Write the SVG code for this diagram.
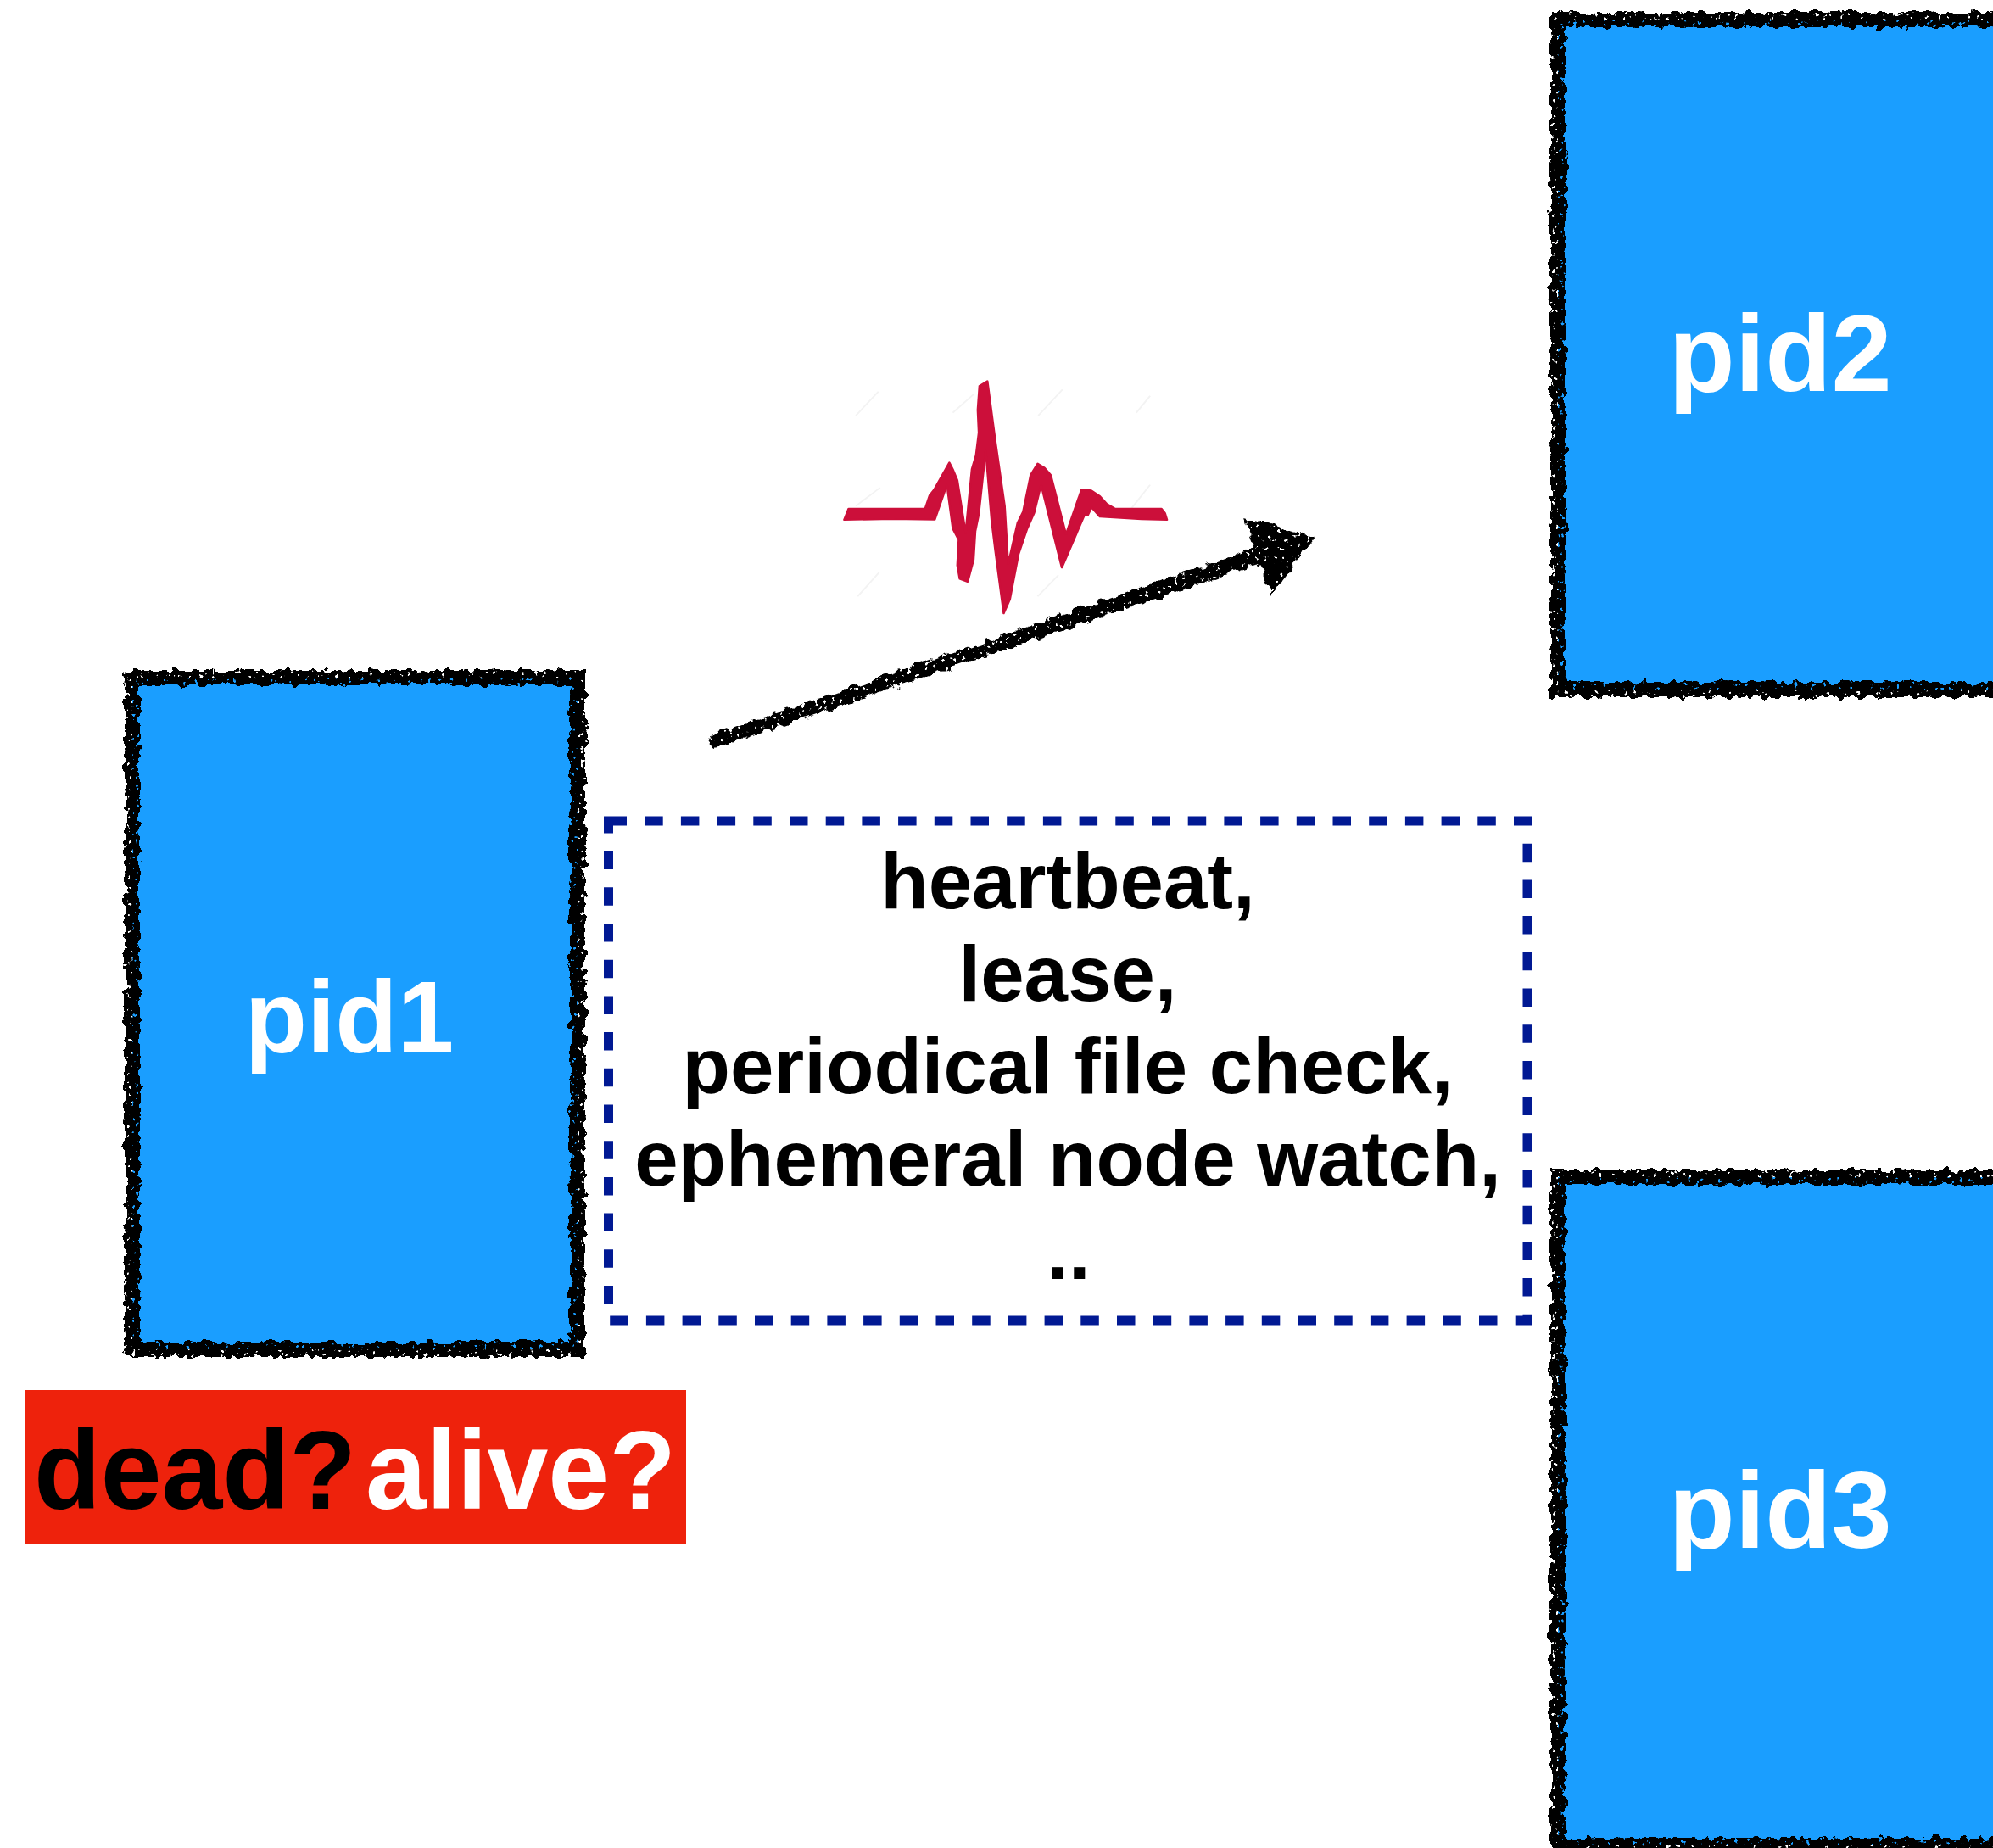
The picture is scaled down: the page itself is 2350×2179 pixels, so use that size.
<svg xmlns="http://www.w3.org/2000/svg" width="2350" height="2179" viewBox="0 0 2350 2179">
<style>
text{font-family:"Liberation Sans",Arial,sans-serif;font-weight:700;text-anchor:middle}
.fill{fill:#1a9eff}
.edge{fill:none;stroke:#000;stroke-width:18;filter:url(#chalk)}
.pid{fill:#fff;font-size:128px}
.note{fill:#000;font-size:92.4px}
.big{font-size:132px;text-anchor:start}
</style>
<defs>
<filter id="chalk" x="-5%" y="-5%" width="110%" height="110%" color-interpolation-filters="sRGB">
<feTurbulence type="fractalNoise" baseFrequency="0.09" numOctaves="2" seed="4" result="n"/>
<feDisplacementMap in="SourceGraphic" in2="n" scale="13" xChannelSelector="R" yChannelSelector="G" result="d"/>
<feTurbulence type="fractalNoise" baseFrequency="0.2" numOctaves="2" seed="9" result="h"/>
<feColorMatrix in="h" type="matrix" values="0 0 0 0 0 0 0 0 0 0 0 0 0 0 0 -18 0 0 0 13" result="m"/>
<feComposite in="d" in2="m" operator="in"/>
</filter>
</defs>
<rect width="2350" height="2179" fill="#fff"/>
<g id="pid1">
<rect class="fill" x="156" y="799" width="525" height="792"/>
<rect class="edge" x="156" y="799" width="525" height="792"/>
<text class="pid" x="412" y="1241" style="font-size:120px">pid1</text>
</g>
<g id="pid2">
<rect class="fill" x="1837" y="23" width="530" height="790"/>
<rect class="edge" x="1837" y="23" width="530" height="790"/>
<text class="pid" x="2099" y="461">pid2</text>
</g>
<g id="pid3">
<rect class="fill" x="1837" y="1388" width="530" height="788"/>
<rect class="edge" x="1837" y="1388" width="530" height="788"/>
<text class="pid" x="2099" y="1825">pid3</text>
</g>
<g id="status">
<rect x="29" y="1639" width="780" height="181" fill="#ee220c"/>
<text class="big" x="40" y="1779" fill="#000" textLength="380" lengthAdjust="spacingAndGlyphs">dead?</text>
<text class="big" x="431" y="1779" fill="#fff" textLength="366" lengthAdjust="spacingAndGlyphs">alive?</text>
</g>
<g id="mechanisms">
<rect x="717.5" y="968" width="1083.5" height="589" fill="none" stroke="#011993" stroke-width="11" stroke-dasharray="21.5 21.2"/>
<text class="note" x="1259" y="1071">heartbeat,</text>
<text class="note" x="1259" y="1180">lease,</text>
<text class="note" x="1259" y="1289">periodical file check,</text>
<text class="note" x="1259" y="1398">ephemeral node watch,</text>
<text class="note" x="1260" y="1508">..</text>
</g>
<g id="pulse" transform="translate(950 420) scale(.40816 .33333)">
<path fill="none" stroke="#f3f3f3" stroke-width="5" d="M145 210L210 125M425 200L485 135M672 210L742 118M955 200L995 140M145 530L215 465M940 540L995 455M150 850L212 765M670 850L730 775"/>
<path fill="#cc0f3a" stroke="#cc0f3a" stroke-width="6" stroke-linejoin="round" d="M111 579L124 539L345 539L358 492L372 470L415 376L425 400L438 438L462 625L480 400L492 350L500 270L497 190L502 105L525 88L548 300L575 530L585 735L612 590L628 550L650 420L670 380L690 395L708 420L752 630L797 471L825 475L850 495L870 522L893 539L1028 539L1038 555L1044 579L970 577L850 568L826 535L815 563L805 563L740 748L680 455L660 555L640 610L615 700L590 860L572 910L548 690L537 580L520 335L500 560L490 620L485 720L468 798L445 788L438 740L442 650L425 610L408 455L373 578L250 576Z"/>
</g>
<g id="connectors">
<path filter="url(#chalk)" fill="#000" d="M836 868L1480 647L1466 611L1550 634L1498 702L1485 664L843 882Z"/>
</g>
</svg>
